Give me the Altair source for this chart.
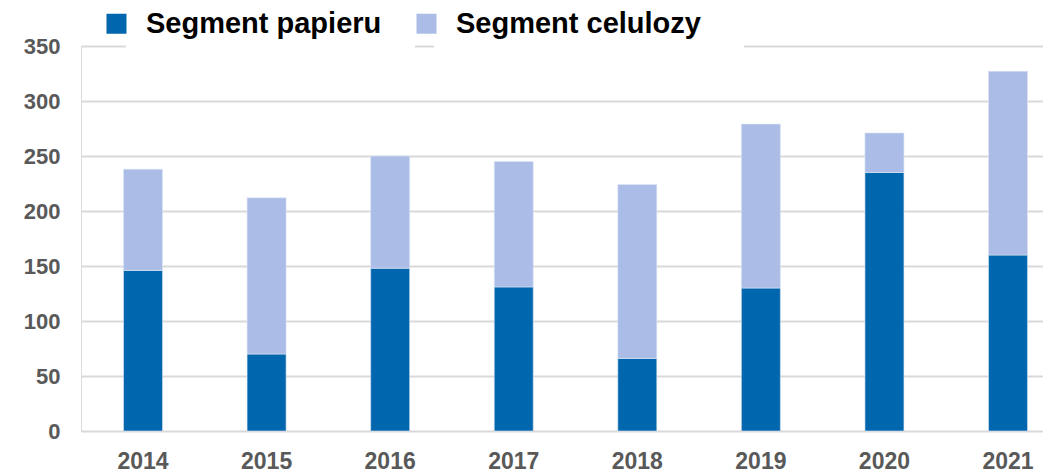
import altair as alt
import pandas as pd

years = ["2014", "2015", "2016", "2017", "2018", "2019", "2020", "2021"]
papieru = [146, 70, 148, 131, 66, 130, 235, 160]
celulozy = [92, 142, 102, 114, 158, 149, 36, 167]
series = ["Segment papieru", "Segment celulozy"]
colors = ["#0066AD", "#ABBDE6"]
y_ticks = [0, 50, 100, 150, 200, 250, 300, 350]

rows = []
for i, y in enumerate(years):
    rows.append({"year": y, "series": series[0], "value": papieru[i], "ord": 0})
    rows.append({"year": y, "series": series[1], "value": celulozy[i], "ord": 1})
df = pd.DataFrame(rows)

FONT = "Liberation Sans"

bars = alt.Chart(df).mark_bar(stroke="#DCE6F5", strokeWidth=0.6).encode(
    x=alt.X("year:N", sort=years, title=None,
            scale=alt.Scale(paddingInner=0.6844, paddingOuter=0.2347, align=0.733, round=False),
            axis=alt.Axis(labelAngle=0, labelFontSize=23, labelFont=FONT, labelFontWeight="bold",
                          labelColor="#595959", labelPadding=19, ticks=False, domain=False, grid=False)),
    y=alt.Y("value:Q", stack="zero", title=None,
            scale=alt.Scale(domain=[0, 350], nice=False),
            axis=alt.Axis(values=y_ticks, labelFontSize=22, labelFont=FONT, labelFontWeight="bold",
                          labelColor="#595959", labelPadding=21, ticks=False, domain=False,
                          grid=True, gridColor="#D9D9D9", gridWidth=2)),
    color=alt.Color("series:N", sort=series,
                    scale=alt.Scale(domain=series, range=colors),
                    legend=alt.Legend(title=None, orient="none", legendX=21, legendY=-37,
                                      direction="horizontal", symbolType="square", symbolSize=400,
                                      symbolStrokeWidth=0, labelFontSize=29, labelFont=FONT,
                                      labelFontWeight="bold", labelColor="#000000", labelOffset=15,
                                      labelLimit=1000, columnPadding=30, padding=0)),
    order=alt.Order("ord:Q", sort="ascending"),
)

mask1 = alt.Chart(pd.DataFrame({"a": [0]})).mark_rect(color="white").encode(
    x=alt.value(45), x2=alt.value(334), y=alt.value(-3), y2=alt.value(3))
mask2 = alt.Chart(pd.DataFrame({"a": [0]})).mark_rect(color="white").encode(
    x=alt.value(353), x2=alt.value(663), y=alt.value(-3), y2=alt.value(3))

chart = alt.layer(bars, mask1, mask2).properties(
    width=962, height=385,
    autosize=alt.AutoSizeParams(type="none"),
    padding={"left": 73, "top": 38, "right": 0, "bottom": 45},
).configure_view(stroke=None).configure(background="white")

chart.save("out.html", embed_options={"renderer": "svg", "actions": False})
